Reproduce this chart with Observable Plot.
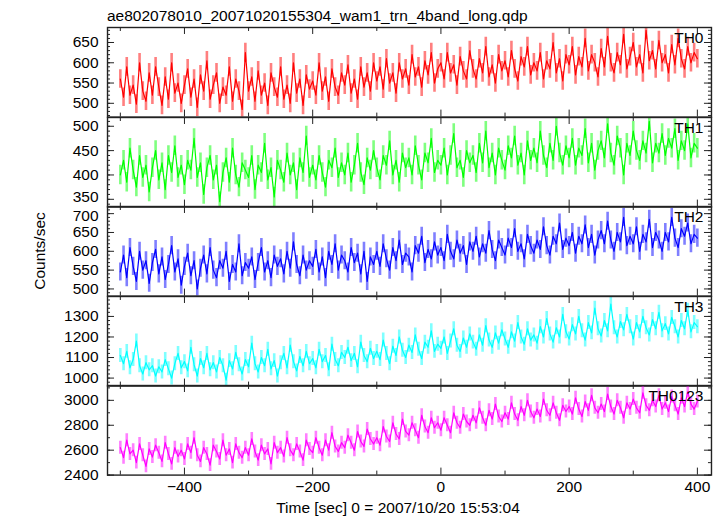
<!DOCTYPE html>
<html><head><meta charset="utf-8">
<script src="https://cdn.jsdelivr.net/npm/d3@7"></script>
<script src="https://cdn.jsdelivr.net/npm/@observablehq/plot@0.6"></script>
<style>
body{margin:0;background:#fff;}
#wrap{position:relative;width:724px;height:516px;font-family:"Liberation Sans",Arial,Helvetica,sans-serif;color:#000;overflow:hidden;}
.panel{position:absolute;left:0;}
.panel svg{overflow:visible;}
#title{position:absolute;left:107px;top:7px;font-size:15.5px;line-height:18px;white-space:nowrap;}
#ylab{position:absolute;left:40px;top:251px;font-size:15.5px;line-height:18px;white-space:nowrap;transform:translate(-50%,-50%) rotate(-90deg);}
#xlab{position:absolute;left:398px;top:499px;font-size:15.5px;line-height:18px;white-space:nowrap;transform:translateX(-50%);}
</style></head>
<body>
<div id="wrap">
<div id="title">ae802078010_20071020155304_wam1_trn_4band_long.qdp</div>
<div id="ylab">Counts/sec</div>
<div id="xlab">Time [sec] 0 = 2007/10/20 15:53:04</div>
</div>
<script>
// time bins: start and step (sec)
const t0 = -500, dt = 5;

const th0 = [
560,515,590,520,545,498,600,530,505,575,
520,590,540,495,565,510,600,525,550,500,
545,585,515,560,490,570,530,605,510,545,
575,500,540,520,590,505,560,530,485,625,
530,565,505,580,520,550,495,575,540,515,
590,510,545,500,600,525,560,495,570,535,
555,520,600,530,565,505,585,540,520,575,
545,595,525,560,510,590,540,575,530,600,
555,590,535,610,550,575,525,600,560,585,
545,620,565,590,540,605,570,625,550,585,
600,560,625,575,595,545,615,580,560,630,
585,560,610,575,640,565,595,550,620,580,
605,565,630,585,555,615,590,640,570,600,
580,625,560,605,585,650,575,610,555,620,
595,640,570,615,590,660,580,620,600,565,
635,590,665,600,575,625,595,670,585,615,
650,590,620,575,680,605,630,585,655,600,
620,575,645,595,660,610,585,640,600,625,
610];

const th1 = [
400,430,385,455,410,375,440,395,420,365,
415,450,390,425,370,440,405,460,395,420,
380,430,410,475,395,425,360,415,440,390,
420,345,405,435,385,455,400,375,425,410,
395,440,370,420,405,465,390,415,355,430,
410,385,445,400,425,370,435,405,480,395,
420,390,440,405,375,430,415,455,395,425,
400,445,385,420,465,405,380,435,410,450,
415,390,440,420,470,400,430,385,445,415,
435,400,460,420,390,445,425,475,405,430,
420,455,400,440,485,415,430,395,450,425,
440,405,465,425,490,415,445,400,455,430,
410,460,435,480,420,445,400,470,430,455,
425,490,440,415,465,430,500,445,420,460,
435,475,420,455,440,495,425,465,410,450,
470,435,505,445,420,480,455,400,465,440,
490,450,430,470,445,510,425,465,445,485,
440,475,455,495,430,470,450,505,435,465,
455];

const th2 = [
545,590,530,610,560,520,600,550,575,515,
570,605,540,585,525,565,615,545,580,510,
560,595,535,575,500,555,590,540,610,550,
530,575,555,600,520,565,545,620,535,570,
555,585,525,570,610,545,575,530,590,560,
580,540,600,555,625,565,535,590,550,575,
560,605,545,585,530,600,565,620,550,590,
575,545,610,570,595,540,600,520,585,565,
600,560,620,580,550,610,575,630,565,595,
585,545,615,595,640,570,605,580,625,590,
610,575,645,600,580,630,595,615,565,625,
600,640,585,620,595,655,605,575,630,610,
590,635,610,660,600,620,580,645,615,595,
630,605,665,615,590,640,620,675,605,635,
615,650,595,640,620,670,610,645,590,630,
655,620,680,630,600,650,625,690,615,640,
620,665,600,645,625,685,610,650,630,600,
650,625,690,635,610,660,640,675,620,645,
635];

const th3 = [
1110,1070,1130,1050,1090,1180,1060,1020,1075,1040,
1060,1010,1055,1030,1090,1045,1000,1070,1120,1050,
1080,1035,1150,1065,1010,1095,1050,1120,1040,1075,
1030,1100,1060,990,1085,1045,1125,1065,1020,1090,
1055,1170,1070,1030,1100,1060,1140,1045,1085,1010,
1075,1120,1050,1160,1080,1035,1105,1060,1130,1070,
1095,1050,1140,1080,1110,1040,1165,1090,1060,1125,
1100,1150,1085,1120,1055,1175,1110,1080,1145,1095,
1130,1090,1185,1120,1070,1155,1110,1200,1135,1100,
1160,1125,1210,1140,1095,1175,1150,1230,1130,1165,
1145,1200,1120,1180,1240,1160,1130,1195,1150,1215,
1175,1140,1210,1160,1255,1185,1150,1220,1170,1235,
1190,1150,1225,1180,1270,1200,1165,1240,1185,1210,
1170,1250,1200,1290,1215,1175,1245,1200,1310,1225,
1190,1260,1215,1300,1230,1185,1270,1220,1340,1240,
1205,1280,1230,1360,1245,1200,1275,1235,1310,1250,
1190,1270,1225,1300,1245,1210,1285,1240,1320,1230,
1265,1215,1295,1250,1200,1280,1240,1330,1225,1270,
1250];

const th0123 = [
2620,2540,2680,2570,2600,2500,2650,2560,2470,2610,
2545,2640,2580,2510,2660,2570,2490,2620,2550,2600,
2530,2650,2580,2700,2560,2510,2620,2570,2480,2640,
2590,2530,2680,2560,2610,2500,2650,2580,2540,2620,
2560,2690,2590,2520,2640,2570,2610,2490,2660,2580,
2620,2550,2700,2600,2560,2650,2590,2520,2680,2610,
2580,2700,2620,2560,2680,2600,2740,2630,2590,2660,
2620,2720,2660,2600,2750,2670,2630,2770,2690,2650,
2700,2640,2790,2710,2670,2820,2730,2690,2850,2750,
2720,2820,2760,2700,2880,2790,2740,2860,2780,2820,
2760,2860,2800,2740,2900,2820,2780,2890,2830,2800,
2880,2820,2940,2860,2800,2920,2850,2970,2870,2830,
2900,2850,2980,2890,2840,2950,2880,3000,2910,2860,
2930,2870,3010,2920,2880,2980,2900,2840,2960,2910,
2950,2890,3020,2930,2870,2990,2920,3040,2940,2900,
2970,2910,3050,2950,2890,3000,2940,2860,2980,2930,
3010,2940,2900,3060,2960,2920,3000,2950,3040,2930,
2980,2910,3030,2960,2890,3020,2950,3070,2970,2930,
2990];

const series = [th0, th1, th2, th3, th0123];
const names = ["TH0", "TH1", "TH2", "TH3", "TH0123"];
const colors = ["#ff0000", "#00ff00", "#0000ff", "#00ffff", "#ff00ff"];
const errs = [23, 20, 24, 34, 52];
const yDomains = [[466, 687], [334, 518], [481, 719], [961, 1397], [2400, 3119]];
const yMajor = [[500, 550, 600, 650], [350, 400, 450, 500], [500, 550, 600, 650, 700], [1000, 1100, 1200, 1300], [2400, 2600, 2800, 3000]];
const yMinorStep = [10, 10, 10, 20, 100];
// labels nudged apart where two panels' edge labels meet: [value, dy px]
const yNudge = [null, [350, -2], [700, 2], null, null];
const xDomain = [-520, 422];
const xMajor = [-400, -200, 0, 200, 400];
const xMinor = [-500, -300, -100, 100, 300];

const W = 724, ML = 107, MR = 13, PH = 89.6, TOP = 27, MB = 40;
const FW = W - ML - MR;
const wrap = document.getElementById("wrap");
const fmt = d => String(d);

series.forEach((vals, i) => {
  const rows = vals.map((v, j) => ({t: t0 + j * dt, v}));
  const last = i === series.length - 1;
  const [lo, hi] = yDomains[i];
  const st = yMinorStep[i];
  const minor = d3.range(Math.ceil(lo / st) * st, hi, st);
  const err = errs[i];
  const col = colors[i];
  const nudge = yNudge[i];
  const plainTicks = nudge ? yMajor[i].filter(v => v !== nudge[0]) : yMajor[i];
  const marks = [
    Plot.ruleX(rows, {x: "t", y1: d => d.v - err, y2: d => d.v + err, stroke: col, strokeOpacity: 0.5, strokeWidth: 2.6, clip: true}),
    Plot.line(rows, {x: "t", y: "v", stroke: col, strokeWidth: 1.2, clip: true}),
    Plot.tickY(minor, {insetRight: FW - 3, stroke: "#222"}),
    Plot.tickY(minor, {insetLeft: FW - 3, stroke: "#222"}),
    Plot.tickY(yMajor[i], {insetRight: FW - 7, stroke: "#222"}),
    Plot.tickY(yMajor[i], {insetLeft: FW - 7, stroke: "#222"}),
    Plot.tickX(xMinor, {insetBottom: PH - 4, stroke: "#222"}),
    Plot.tickX(xMinor, {insetTop: PH - 4, stroke: "#222"}),
    Plot.tickX(xMajor, {insetBottom: PH - 7, stroke: "#222"}),
    Plot.tickX(xMajor, {insetTop: PH - 7, stroke: "#222"}),
    Plot.axisY({ticks: plainTicks, tickSize: 0, tickPadding: 9, tickFormat: fmt, label: null, fill: "#000"}),
    Plot.text([names[i]], {frameAnchor: "top-right", dx: -8, dy: 4, fontSize: 15.5, fill: "#000"}),
    Plot.frame({stroke: "#222", strokeWidth: 1.4})
  ];
  if (nudge) marks.push(Plot.axisY({ticks: [nudge[0]], tickSize: 0, tickPadding: 9, tickFormat: fmt, label: null, fill: "#000", dy: nudge[1]}));
  if (last) marks.push(Plot.axisX({ticks: xMajor, tickSize: 0, tickPadding: 6, label: null, fill: "#000"}));
  const chart = Plot.plot({
    width: W,
    height: last ? PH + MB : PH,
    marginLeft: ML, marginRight: MR, marginTop: 0, marginBottom: last ? MB : 0,
    style: {fontFamily: "'Liberation Sans', Arial, Helvetica, sans-serif", fontSize: "15.5px", background: "transparent", overflow: "visible"},
    x: {domain: xDomain, axis: last ? undefined : null},
    y: {domain: yDomains[i]},
    marks
  });
  const div = document.createElement("div");
  div.className = "panel";
  div.style.top = (TOP + i * PH) + "px";
  div.appendChild(chart);
  wrap.appendChild(div);
});
</script>
</body></html>
